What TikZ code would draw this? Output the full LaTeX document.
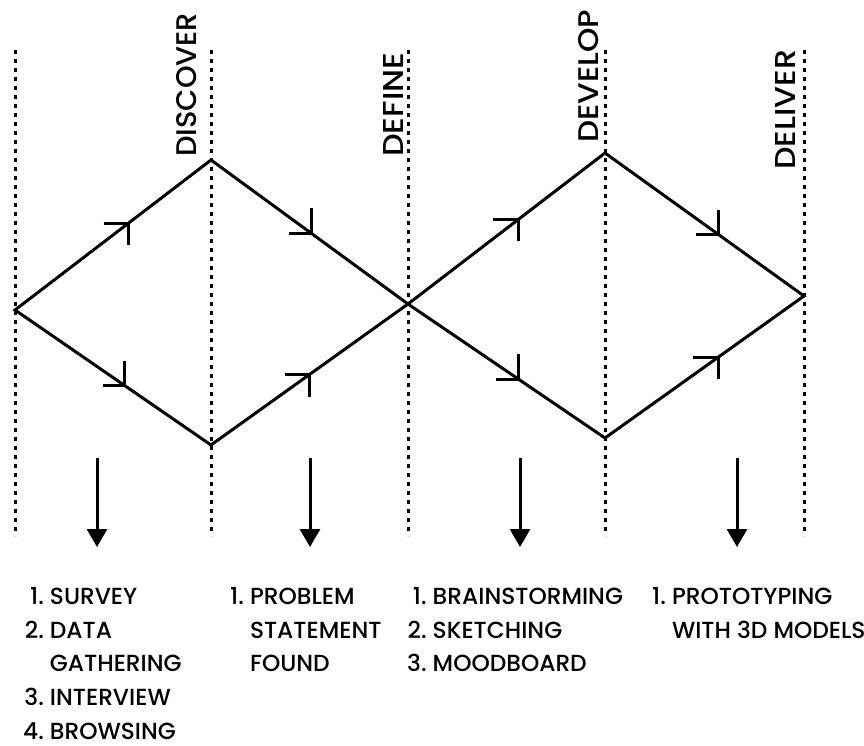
\documentclass[tikz,border=0pt]{standalone}
\usepackage{fontspec}
\setmainfont{Poppins Medium}
\usetikzlibrary{arrows.meta}
\newcommand{\phasetext}[2]{\resizebox{#1}{20pt}{\fontsize{28}{30}\selectfont #2}}
\tikzset{
  guide/.style={line width=3pt, dash pattern=on 4pt off 5pt},
  flow/.style={line width=3pt, line join=miter},
  tick/.style={line width=3pt},
  downarrow/.style={line width=3pt, -{Triangle[width=20pt,length=18pt]}},
  phase/.style={rotate=90, anchor=base west, inner sep=0pt},
  items/.style={anchor=north west, inner sep=0pt, align=left, font=\fontsize{23.3}{33.6}\selectfont}
}
\begin{document}
\begin{tikzpicture}[x=1pt,y=-1pt]
\useasboundingbox (0,0) rectangle (864,745);
% guides
\foreach \n/\x in {g0/15,g1/211,g2/408,g3/605,g4/804}{
  \coordinate (\n t) at (\x,50);
  \coordinate (\n b) at (\x,536);
  \draw[guide] (\n t) -- (\n b);
}
% phase labels
\node[phase] (discover) at (196,157) {\phasetext{144pt}{DISCOVER}};
\node[phase] (define) at (403,157) {\phasetext{104pt}{DEFINE}};
\node[phase] (develop) at (598,143) {\phasetext{133pt}{DEVELOP}};
\node[phase] (deliver) at (795,170) {\phasetext{120pt}{DELIVER}};
% diamond vertices
\coordinate (L) at (15,310);
\coordinate (T1) at (211,160);
\coordinate (B1) at (211,445);
\coordinate (M) at (408,304);
\coordinate (T2) at (605,153);
\coordinate (B2) at (605,438);
\coordinate (R) at (804,296);
\draw[flow] (L) -- (T1) -- (M) -- (T2) -- (R) -- (B2) -- (M) -- (B1) -- cycle;
% direction ticks
\path (L) -- (T1) coordinate[pos=0.58] (a1);
\path (T1) -- (M) coordinate[pos=0.51] (a2);
\path (L) -- (B1) coordinate[pos=0.56] (a3);
\path (B1) -- (M) coordinate[pos=0.50] (a4);
\path (M) -- (T2) coordinate[pos=0.56] (a5);
\path (T2) -- (R) coordinate[pos=0.57] (a6);
\path (M) -- (B2) coordinate[pos=0.56] (a7);
\path (B2) -- (R) coordinate[pos=0.57] (a8);
\foreach \p in {a1,a4,a5,a8}{
  \draw[tick] ([xshift=-25pt]\p) -- (\p) -- ([yshift=-22pt]\p);
}
\foreach \p in {a2,a3,a6,a7}{
  \draw[tick] ([xshift=-22pt]\p) -- (\p) -- ([yshift=25pt]\p);
}
% down arrows
\foreach \n/\x in {d1/97,d2/310,d3/520,d4/737}{
  \coordinate (\n s) at (\x,458);
  \coordinate (\n e) at (\x,547);
  \draw[downarrow] (\n s) -- (\n e);
}
% lists
\node[items] (list1) at (23,581) {\begin{tabular}{@{}r@{\ }l@{}}1.&SURVEY\\2.&DATA\\&GATHERING\\3.&INTERVIEW\\4.&BROWSING\end{tabular}};
\node[items] (list2) at (230,581) {\begin{tabular}{@{}r@{\ }l@{}}1.&PROBLEM\\&STATEMENT\\&FOUND\end{tabular}};
\node[items] (list3) at (407,581) {\begin{tabular}{@{}r@{\ }l@{}}1.&BRAINSTORMING\\2.&SKETCHING\\3.&MOODBOARD\end{tabular}};
\node[items] (list4) at (652,581) {\begin{tabular}{@{}r@{\ }l@{}}1.&PROTOTYPING\\&WITH 3D MODELS\end{tabular}};
\end{tikzpicture}
\end{document}
